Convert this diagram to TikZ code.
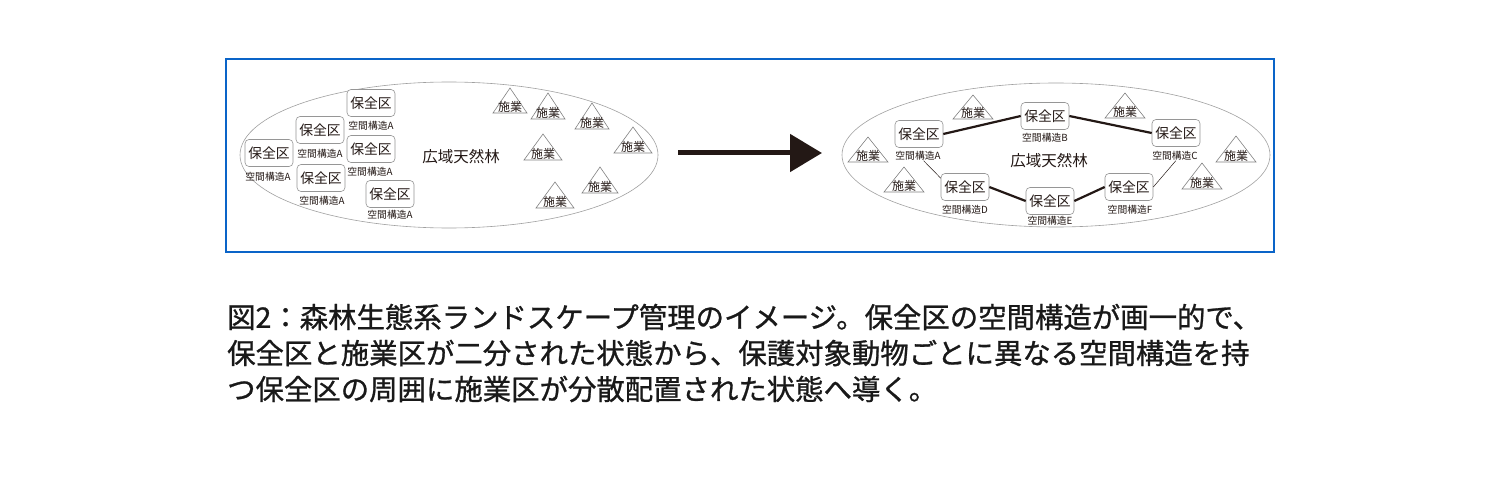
\documentclass[tikz,border=0pt]{standalone}
\usepackage{fontspec}
\setmainfont{Noto Sans CJK JP}
\newfontfamily\capfont[FakeBold=0.9]{Noto Sans CJK JP}
\usetikzlibrary{arrows.meta}
\definecolor{frameblue}{RGB}{10,100,200}
\definecolor{inkblack}{RGB}{35,24,21}
\definecolor{edgegray}{RGB}{160,160,160}
\definecolor{boxgray}{RGB}{150,150,150}
\definecolor{trigray}{RGB}{130,130,130}
\tikzset{
  zone/.style={draw=boxgray, rounded corners=4pt, minimum width=48pt, minimum height=27pt,
    inner sep=0pt, line width=0.6pt, fill=white, text=inkblack, font=\fontsize{13.8}{14}\selectfont},
  lbl/.style={inner sep=0pt, text=inkblack, font=\fontsize{9.8}{11}\selectfont},
  worklbl/.style={inner sep=0pt, text=inkblack, font=\fontsize{12}{13}\selectfont},
  forestlbl/.style={inner sep=0pt, text=inkblack, font=\fontsize{15.5}{17}\selectfont},
  forest/.style={draw=edgegray, line width=0.6pt},
  tri/.style={draw=trigray, line width=0.6pt},
  link/.style={draw=inkblack, line width=2.2pt},
  thinlink/.style={draw=inkblack, line width=0.5pt},
  caption/.style={anchor=west, inner sep=0pt, text=black!90, font=\capfont\fontsize{28.4}{30}\selectfont}
}
\begin{document}
\begin{tikzpicture}[x=1pt,y=-1pt]
\useasboundingbox (0,0) rectangle (1500,500);
\fill[white] (0,0) rectangle (1500,500);
% frame
\draw[frameblue, line width=2pt] (226,59) rectangle (1274,252);

% ---------- left forest ----------
\draw[forest] (449,155) ellipse [x radius=209pt, y radius=73pt];
\node[forestlbl] (fl) at (461,157) {広域天然林};

\node[zone] (L1) at (371,103) {保全区};
\node[lbl]  (l1) at (371,126) {空間構造A};
\node[zone] (L2) at (320,130) {保全区};
\node[lbl]  (l2) at (320,154) {空間構造A};
\node[zone] (L3) at (269,153) {保全区};
\node[lbl]  (l3) at (268,177) {空間構造A};
\node[zone] (L4) at (371,149) {保全区};
\node[lbl]  (l4) at (370,172) {空間構造A};
\node[zone] (L5) at (321,178) {保全区};
\node[lbl]  (l5) at (322,201) {空間構造A};
\node[zone] (L6) at (390,194) {保全区};
\node[lbl]  (l6) at (390,215) {空間構造A};

\foreach \x/\ya/\yb/\w/\n in {510/88/113/17/w1, 548/93/119/17/w2, 592/103/129/17/w3,
   633/127/153/19/w4, 543/134/160/19/w5, 600/167/193/18/w6, 555/182/208/19/w7}{
  \draw[tri] (\x-\w,\yb) -- (\x,\ya) -- (\x+\w,\yb) -- cycle;
  \node[worklbl] (\n) at (\x,\yb-6.5) {施業};
}

% ---------- arrow ----------
\coordinate (arrS) at (678,153);
\coordinate (arrE) at (822,153);
\draw[inkblack, line width=5pt, -{Triangle[length=32pt,width=37pt]}] (arrS) -- (arrE);

% ---------- right forest ----------
\draw[forest] (1056,155) ellipse [x radius=214pt, y radius=72pt];
\node[forestlbl] (fr) at (1049,161) {広域天然林};

\foreach \x/\ya/\yb/\w/\n in {973/95/119/20/v1, 1125/93/118/20/v2, 868/137/162/20/v3,
   904/167/192/20/v4, 1236/136/162/20/v5, 1202/163/189/20/v6}{
  \draw[tri] (\x-\w,\yb) -- (\x,\ya) -- (\x+\w,\yb) -- cycle;
  \node[worklbl] (\n) at (\x,\yb-6.5) {施業};
}

\node[zone] (A) at (919,134) {保全区};
\node[lbl]  (lA) at (918,156) {空間構造A};
\node[zone] (B) at (1045,116) {保全区};
\node[lbl]  (lB) at (1045,138) {空間構造B};
\node[zone] (C) at (1176,133) {保全区};
\node[lbl]  (lC) at (1175,156) {空間構造C};
\node[zone] (D) at (965,187) {保全区};
\node[lbl]  (lD) at (965,210) {空間構造D};
\node[zone] (E) at (1050,201) {保全区};
\node[lbl]  (lE) at (1050,221) {空間構造E};
\node[zone] (F) at (1129,187) {保全区};
\node[lbl]  (lF) at (1130,210) {空間構造F};

\draw[link] (A.east) -- (B.west);
\draw[link] (B.east) -- (C.west);
\draw[link] (D.east) -- (E.west);
\draw[link] (E.east) -- (F.west);
\draw[thinlink] (lA.-40) -- (D.160);
\draw[thinlink] (lC.-80) -- (F.east);

% ---------- caption ----------
\node[caption] (cap1) at (227,317) {図2：森林生態系ランドスケープ管理のイメージ。保全区の空間構造が画一的で、};
\node[caption] (cap2) at (227,353) {保全区と施業区が二分された状態から、保護対象動物ごとに異なる空間構造を持};
\node[caption] (cap3) at (227,389) {つ保全区の周囲に施業区が分散配置された状態へ導く。};
\end{tikzpicture}
\end{document}
